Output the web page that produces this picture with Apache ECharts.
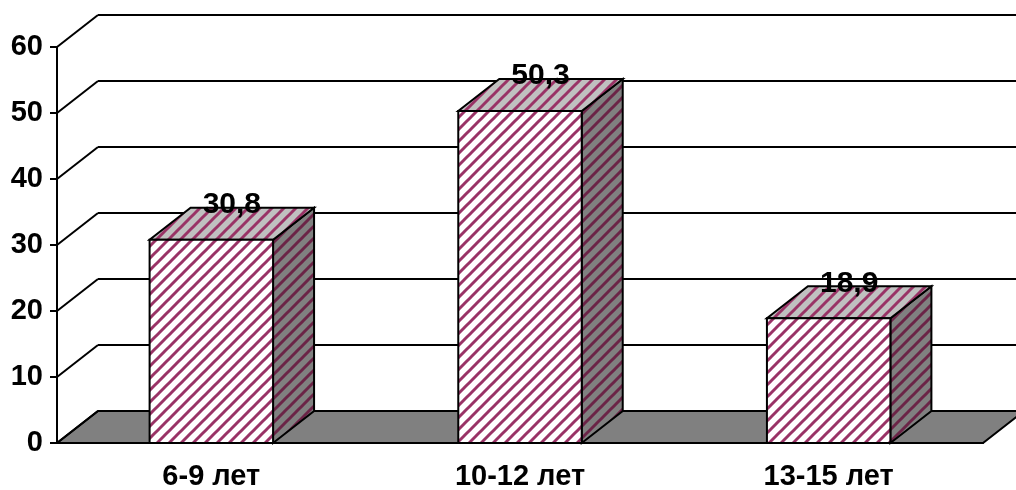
<!DOCTYPE html>
<html><head><meta charset="utf-8">
<script src="https://cdn.jsdelivr.net/npm/echarts@6/dist/echarts.min.js"></script>
<style>html,body{margin:0;padding:0;background:#fff}#c{width:1016px;height:490px}</style>
</head><body><div id="c"></div>
<script>
const categories = ['6-9 лет', '10-12 лет', '13-15 лет'];
const values = [30.8, 50.3, 18.9];
const yTicks = [0, 10, 20, 30, 40, 50, 60];

const DX = 41, DY = -32;
const FONT = '"Liberation Sans", Arial, sans-serif';

function tile(bg, fg) {
  const P = 12;
  const c = document.createElement('canvas');
  c.width = P; c.height = P;
  const g = c.getContext('2d');
  g.fillStyle = bg; g.fillRect(0, 0, P, P);
  g.strokeStyle = fg; g.lineWidth = 3;
  for (let k = -1; k <= 1; k++) {
    g.beginPath(); g.moveTo(k * P - 2, P + 2); g.lineTo(k * P + P + 2, -2); g.stroke();
  }
  return { image: c, repeat: 'repeat' };
}
const frontFill = tile('#ffffff', '#993366');
const topFill = tile('#c0c0c0', '#993366');
const sideFill = tile('#808080', '#6b2447');

const chart = echarts.init(document.getElementById('c'), null, { renderer: 'canvas' });

const axisText = { color: '#000', fontSize: 29, fontWeight: 'bold', fontFamily: FONT };

chart.setOption({
  animation: false,
  backgroundColor: '#fff',
  grid: [
    { left: 57, top: 47, right: 33, bottom: 47, outerBoundsMode: 'none', containLabel: false },
    { left: 98, top: 15, right: -8, bottom: 79, outerBoundsMode: 'none', containLabel: false }
  ],
  xAxis: [
    { type: 'category', gridIndex: 0, data: categories,
      axisLine: { lineStyle: { color: '#000', width: 2 } },
      axisTick: { length: 8, lineStyle: { color: '#000', width: 2 } },
      axisLabel: Object.assign({ margin: 19 }, axisText) },
    { type: 'category', gridIndex: 1, data: categories, show: false }
  ],
  yAxis: [
    { type: 'value', gridIndex: 0, min: 0, max: 60, interval: 10,
      axisLine: { show: true, lineStyle: { color: '#000', width: 2 } },
      axisTick: { show: true, length: 7, lineStyle: { color: '#000', width: 2 } },
      splitLine: { show: false },
      axisLabel: Object.assign({ margin: 14 }, axisText) },
    { type: 'value', gridIndex: 1, min: 0, max: 60, interval: 10,
      axisLine: { show: false }, axisTick: { show: false }, axisLabel: { show: false },
      splitLine: { show: true, lineStyle: { color: '#000', width: 2 } } }
  ],
  series: [
    {
      type: 'custom', xAxisIndex: 0, yAxisIndex: 0, z: 1, silent: true,
      data: yTicks.map(v => [0, v]),
      renderItem: function (params, api) {
        const cs = params.coordSys;
        const y = api.coord([0, api.value(1)])[1];
        const x = cs.x;
        const children = [];
        if (api.value(1) === 0) {
          children.push({
            type: 'polygon',
            shape: { points: [[x, y], [x + cs.width, y], [x + cs.width + DX, y + DY], [x + DX, y + DY]] },
            style: { fill: '#808080', stroke: '#000', lineWidth: 2 }
          });
        }
        children.push({
          type: 'line',
          shape: { x1: x, y1: y, x2: x + DX, y2: y + DY },
          style: { stroke: '#000', lineWidth: 2 }
        });
        return { type: 'group', children: children };
      }
    },
    {
      type: 'custom', xAxisIndex: 0, yAxisIndex: 0, z: 3, silent: true,
      data: values.map((v, i) => [i, v]),
      renderItem: function (params, api) {
        const v = api.value(1);
        const top = api.coord([api.value(0), v]);
        const base = api.coord([api.value(0), 0]);
        const w = api.size([1, 0])[0] * 0.4;
        const x0 = top[0] - w / 2, x1 = top[0] + w / 2;
        const yT = top[1], yB = base[1];
        return {
          type: 'group',
          children: [
            { type: 'polygon',
              shape: { points: [[x1, yB], [x1, yT], [x1 + DX, yT + DY], [x1 + DX, yB + DY]] },
              style: { fill: sideFill, stroke: '#000', lineWidth: 2 } },
            { type: 'polygon',
              shape: { points: [[x0, yT], [x1, yT], [x1 + DX, yT + DY], [x0 + DX, yT + DY]] },
              style: { fill: topFill, stroke: '#000', lineWidth: 2 } },
            { type: 'rect',
              shape: { x: x0, y: yT, width: w, height: yB - yT },
              style: { fill: frontFill, stroke: '#000', lineWidth: 2 } },
            { type: 'text',
              x: top[0] + DX / 2, y: yT + DY - 3,
              style: { text: String(v).replace('.', ','), fill: '#000',
                fontSize: 30, fontWeight: 'bold', fontFamily: FONT,
                align: 'center', verticalAlign: 'middle' } }
          ]
        };
      }
    }
  ]
});
</script>
</body></html>
